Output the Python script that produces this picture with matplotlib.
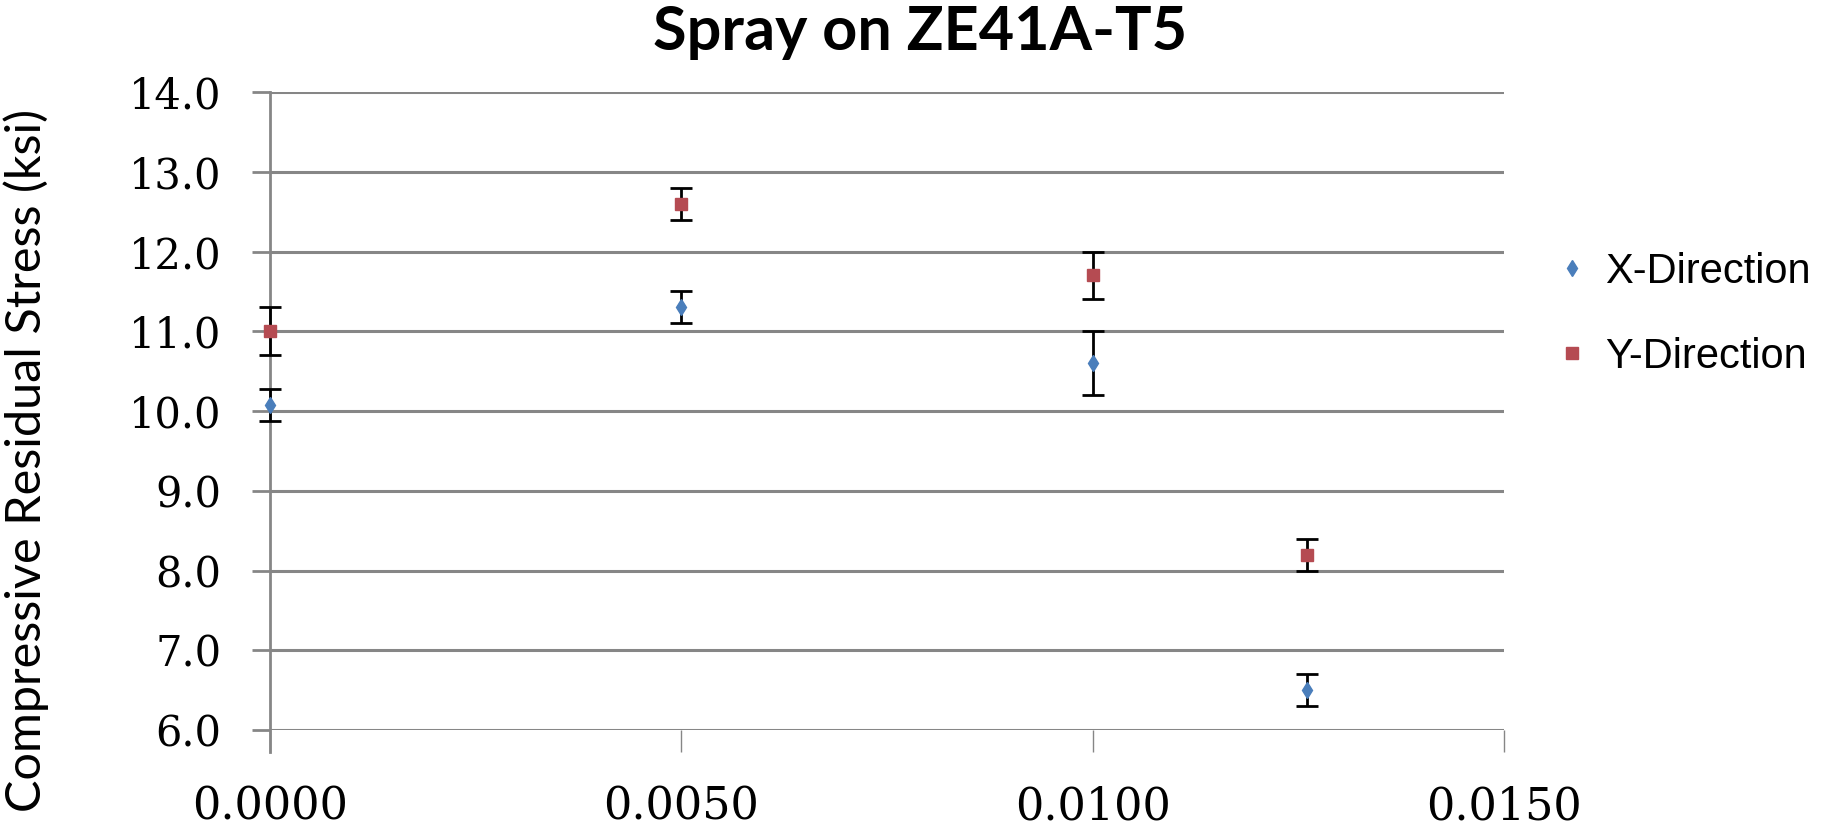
import matplotlib
matplotlib.use('Agg')
import matplotlib.pyplot as plt
import numpy as np

# data
depth = [0.0, 0.0050, 0.0100, 0.0126]
x_dir = [10.07, 11.3, 10.6, 6.5]
x_err = [0.2, 0.2, 0.4, 0.2]
y_dir = [11.0, 12.6, 11.7, 8.2]
y_err = [0.3, 0.2, 0.3, 0.2]

xticks = [0.0, 0.005, 0.010, 0.015]
yticks = [6, 7, 8, 9, 10, 11, 12, 13, 14]

grid_col = '#868686'

fig = plt.figure(figsize=(18.22, 8.30), dpi=100, facecolor='white')
ax = fig.add_axes([270/1822, 1 - 730/830, (1504 - 270)/1822, (730 - 92)/830])

eb1 = ax.errorbar(depth, x_dir, yerr=x_err, fmt='d', color='#4A7EBB', ms=8,
                  ecolor='black', elinewidth=2, capsize=8, capthick=2,
                  label='X-Direction', zorder=3)
eb2 = ax.errorbar(depth, y_dir, yerr=y_err, fmt='s', color='#B54B52', ms=8,
                  ecolor='black', elinewidth=2, capsize=8, capthick=2,
                  label='Y-Direction', zorder=3)
# points at x=0 sit on the axis, don't clip them
for eb in (eb1, eb2):
    for art in eb.get_children():
        art.set_clip_on(False)

ax.set_xlim(0, 0.015)
ax.set_ylim(6, 14)
ax.set_xticks(xticks)
ax.set_yticks(yticks)
ax.set_xticklabels(['%.4f' % v for v in xticks], fontfamily='DejaVu Serif', fontsize=32)
ax.set_yticklabels(['%.1f' % v for v in yticks], fontfamily='DejaVu Serif', fontsize=30)
ax.tick_params(axis='x', direction='out', length=16, width=1, color=grid_col, pad=24)
ax.tick_params(axis='y', direction='out', length=13, width=2, color=grid_col, pad=22)

ax.grid(axis='y', color=grid_col, linewidth=2.2)
ax.set_axisbelow(True)
for s in ['top', 'right', 'bottom']:
    ax.spines[s].set_visible(False)
ax.spines['left'].set_color(grid_col)
ax.spines['left'].set_linewidth(2)
ax.spines['left'].set_bounds(5.72, 14)
ax.spines['left'].set_clip_on(False)

fig.text(920/1822, 1 - 50/830, 'Spray on ZE41A-T5', ha='center', va='baseline',
         fontfamily='Lato', fontweight='bold', fontsize=44)
fig.text(26/1822, 1 - 460/830, 'Compressive Residual Stress (ksi)', rotation=90,
         ha='center', va='center', fontfamily='Lato', fontsize=35)

handles, labels = ax.get_legend_handles_labels()
handles = [h[0] for h in handles]
leg = fig.legend(handles, labels, loc='center left', bbox_to_anchor=(1522/1822, 1 - 314/830),
                 frameon=False, handlelength=0.6, handletextpad=0.5, labelspacing=1.08,
                 prop={'family': 'Liberation Sans', 'size': 30})

plt.savefig('out.png', dpi=100, facecolor='white')
